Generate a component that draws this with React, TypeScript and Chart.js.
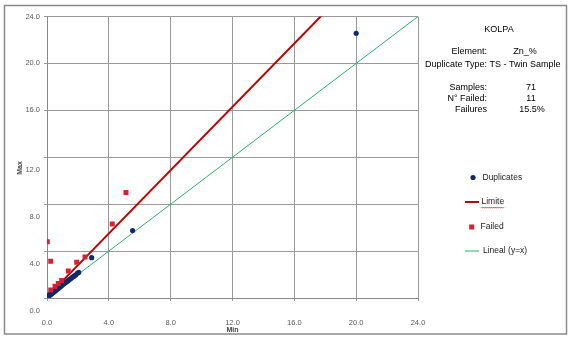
import React, { useEffect, useRef } from "react";
import { Chart, registerables } from "chart.js";

Chart.register(...registerables);

// ---- data ----
const dupMin = [0.02, 0.04, 0.06, 0.08, 0.1, 0.12, 0.15, 0.18, 0.2, 0.22, 0.25, 0.28, 0.3, 0.33, 0.36, 0.4, 0.44, 0.48, 0.52, 0.56, 0.6, 0.65, 0.7, 0.75, 0.8, 0.86, 0.92, 0.98, 1.05, 1.12, 1.2, 1.28, 1.35, 1.42, 1.5, 1.58, 1.66, 1.75, 1.85, 1.96, 2.05, 2.89, 5.54, 20.0];
const dupMax = [0.08, 0.12, 0.1, 0.16, 0.18, 0.17, 0.24, 0.26, 0.3, 0.28, 0.36, 0.35, 0.4, 0.42, 0.44, 0.5, 0.52, 0.58, 0.6, 0.66, 0.68, 0.75, 0.8, 0.84, 0.9, 0.95, 1.02, 1.1, 1.18, 1.24, 1.32, 1.4, 1.46, 1.55, 1.62, 1.7, 1.78, 1.86, 1.96, 2.1, 2.18, 3.44, 5.75, 22.57];
const failMin = [0.02, 0.24, 0.24, 0.52, 0.73, 0.95, 1.38, 1.92, 2.46, 4.22, 5.11];
const failMax = [4.79, 3.13, 0.68, 1.01, 1.24, 1.5, 2.31, 3.04, 3.49, 6.31, 8.99];
const limitMin = [0.0, 20.0];
const limitMax = [0.1, 27.1];
const linealMin = [0, 24];
const linealMax = [0, 24];
const axisTicks = [0, 4, 8, 12, 16, 20, 24];
const shiftedYTicks = [0, 4, 8, 12];
const infoTitle = "KOLPA";
const infoLabels = ["Element:", "Duplicate Type:", "Samples:", "N° Failed:", "Failures"];
const infoValues = ["Zn_%", "TS - Twin Sample", "71", "11", "15.5%"];
const legendNames = ["Duplicates", "Limite", "Failed", "Lineal (y=x)"];

const navy = "#10296a";
const red = "#dc1f30";
const darkRed = "#c00000";
const green = "#27b46e";

const pts = (xs: number[], ys: number[]) => xs.map((x, i) => ({ x, y: ys[i] }));

const overlay = {
  id: "overlay",
  beforeDraw(chart: any) {
    const ctx = chart.ctx;
    ctx.save();
    ctx.fillStyle = "#ffffff";
    ctx.fillRect(0, 0, chart.width, chart.height);
    ctx.restore();
  },
  afterDraw(chart: any) {
    const ctx = chart.ctx as CanvasRenderingContext2D;
    ctx.save();
    // outer frame
    ctx.strokeStyle = "#8a8a8a";
    ctx.lineWidth = 1.5;
    ctx.strokeRect(4.5, 5.5, 562, 328.5);

    // y title
    ctx.save();
    ctx.translate(20, 168);
    ctx.rotate(-Math.PI / 2);
    ctx.font = 'bold 7px "Liberation Sans"';
    ctx.fillStyle = "#404040";
    ctx.textAlign = "center";
    ctx.textBaseline = "middle";
    ctx.fillText("Max", 0, 0);
    ctx.restore();

    // info panel
    ctx.fillStyle = "#000000";
    ctx.textBaseline = "middle";
    ctx.font = '9px "Liberation Sans"';
    ctx.textAlign = "center";
    ctx.fillText(infoTitle, 499, 30);
    const ys = [52, 65, 88, 99, 110];
    const valX = [525, 525, 531, 531, 532];
    infoLabels.forEach((l, i) => {
      ctx.textAlign = "right";
      ctx.fillText(l, 487, ys[i]);
      ctx.textAlign = "center";
      ctx.fillText(infoValues[i], valX[i], ys[i]);
    });

    // legend
    const ly = [177.5, 202, 227, 251];
    ctx.font = '8.5px "Liberation Sans"';
    ctx.textAlign = "left";
    // Duplicates marker
    ctx.beginPath();
    ctx.fillStyle = navy;
    ctx.arc(473, ly[0], 2.6, 0, Math.PI * 2);
    ctx.fill();
    // Limite line
    ctx.strokeStyle = "#a01515";
    ctx.lineWidth = 2;
    ctx.beginPath();
    ctx.moveTo(465, ly[1]);
    ctx.lineTo(479, ly[1]);
    ctx.stroke();
    // Failed marker
    ctx.fillStyle = red;
    ctx.fillRect(469.2, ly[2] - 2.5, 5, 5);
    // Lineal line
    ctx.strokeStyle = green;
    ctx.lineWidth = 1;
    ctx.beginPath();
    ctx.moveTo(465, ly[3]);
    ctx.lineTo(479, ly[3]);
    ctx.stroke();
    const lx = [482.5, 481.5, 480.5, 483];
    ctx.fillStyle = "#222222";
    legendNames.forEach((n, i) => ctx.fillText(n, lx[i], ly[i]));
    // spell-check squiggle under "Limite"
    const w = ctx.measureText(legendNames[1]).width;
    ctx.strokeStyle = "#e02020";
    ctx.lineWidth = 0.8;
    ctx.beginPath();
    for (let x = 0; x <= w; x += 1) {
      const yy = ly[1] + 5 + (x % 2 === 0 ? 0 : 1.2);
      if (x === 0) ctx.moveTo(lx[1] + x, yy);
      else ctx.lineTo(lx[1] + x, yy);
    }
    ctx.stroke();
    ctx.restore();
  },
};

export default function App() {
  const ref = useRef<HTMLCanvasElement>(null);
  useEffect(() => {
    if (!ref.current) return;
    const tickFont = { family: '"Liberation Sans"', size: 7.5 };
    const chart = new Chart(ref.current, {
      type: "scatter",
      data: {
        datasets: [
          {
            label: legendNames[2],
            data: pts(failMin, failMax),
            pointStyle: "rect",
            pointRadius: 3.5,
            backgroundColor: red,
            borderColor: red,
            borderWidth: 0,
          },
          {
            label: legendNames[0],
            data: pts(dupMin, dupMax),
            pointStyle: "circle",
            pointRadius: 2.6,
            backgroundColor: navy,
            borderColor: navy,
            borderWidth: 0,
          },
          {
            label: legendNames[1],
            data: pts(limitMin, limitMax),
            showLine: true,
            pointRadius: 0,
            borderColor: darkRed,
            borderWidth: 2,
          },
          {
            label: legendNames[3],
            data: pts(linealMin, linealMax),
            showLine: true,
            pointRadius: 0,
            borderColor: green,
            borderWidth: 1,
          },
        ],
      },
      options: {
        animation: false,
        responsive: false,
        layout: { padding: { left: 0, right: 155, top: 14, bottom: 0 } },
        plugins: { legend: { display: false }, tooltip: { enabled: false } },
        scales: {
          x: {
            type: "linear",
            min: 0,
            max: 24,
            afterFit: (s: any) => {
              s.height = 41;
            },
            afterBuildTicks: (s: any) => {
              s.ticks = axisTicks.map((v) => ({ value: v }));
            },
            ticks: {
              font: tickFont,
              color: "#595959",
              padding: 17,
              maxRotation: 0,
              autoSkip: false,
              callback: (v: any) => Number(v).toFixed(1),
            },
            grid: { color: "#9a9a9a", lineWidth: 1, tickLength: 3 },
            border: { color: "#8a8a8a", width: 1 },
            title: {
              display: true,
              text: "Min",
              font: { family: '"Liberation Sans"', size: 7, weight: "bold" },
              color: "#404040",
              padding: { top: 0, bottom: 4.5 },
            },
          },
          y: {
            type: "linear",
            min: 0,
            max: 24,
            afterFit: (s: any) => {
              s.width = 47;
            },
            afterBuildTicks: (s: any) => {
              s.ticks = axisTicks.map((v) => ({ value: v }));
            },
            ticks: {
              font: { family: '"Liberation Sans"', size: 7.5, lineHeight: "25px" },
              color: "#595959",
              padding: 4,
              autoSkip: false,
              callback: (v: any) => {
                const t = Number(v).toFixed(1);
                return shiftedYTicks.includes(Number(v)) ? ["", t] : t;
              },
            },
            grid: { color: "#9a9a9a", lineWidth: 1, tickLength: 3 },
            border: { color: "#8a8a8a", width: 1 },
          },
        },
      },
      plugins: [overlay],
    } as any);
    return () => chart.destroy();
  }, []);
  return (
    <div style={{ position: "absolute", left: 0, top: 0, width: 573, height: 339 }}>
      <canvas ref={ref} width={573} height={339} style={{ display: "block" }} />
    </div>
  );
}
